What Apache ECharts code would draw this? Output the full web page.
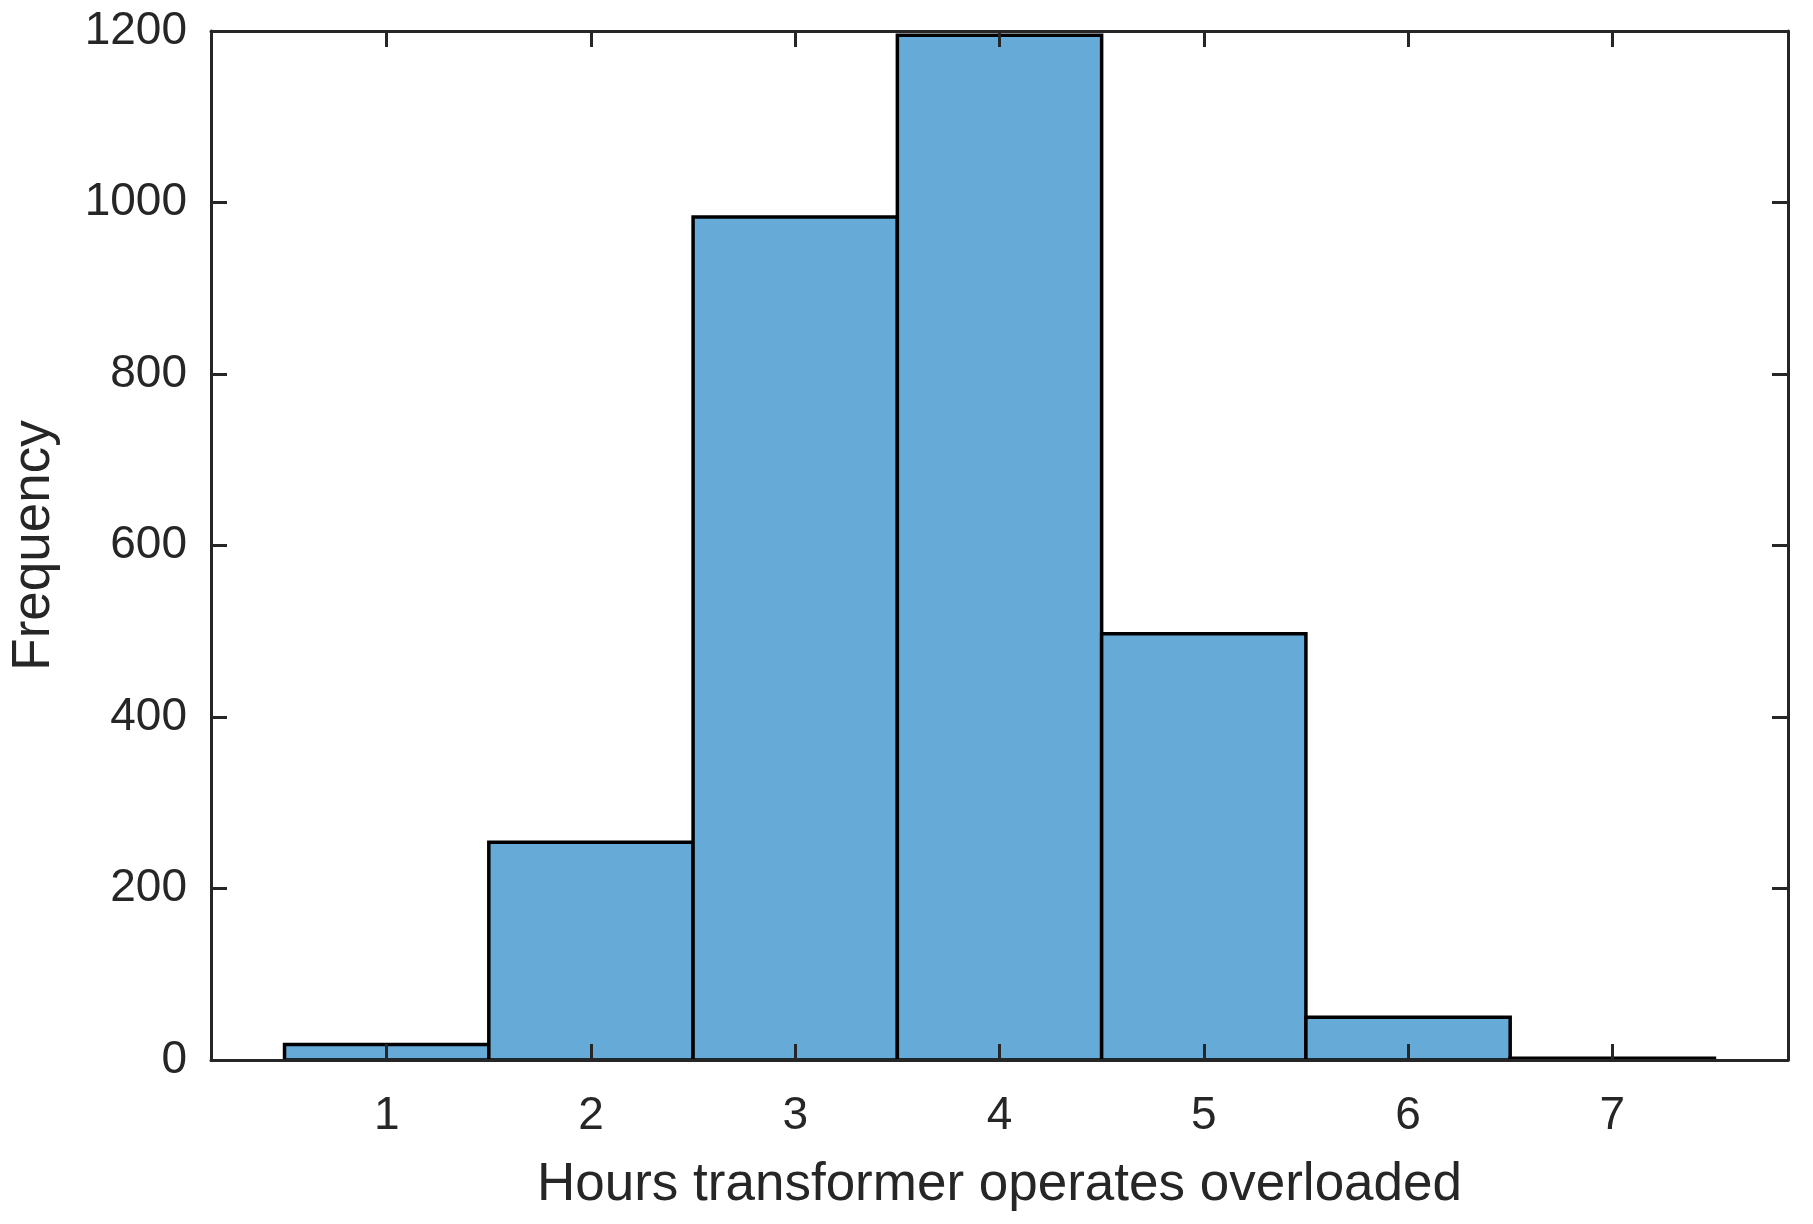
<!DOCTYPE html>
<html>
<head>
<meta charset="utf-8">
<script src="https://cdn.jsdelivr.net/npm/echarts@6/dist/echarts.min.js"></script>
<style>
html,body{margin:0;padding:0;background:#fff;}
#chart{width:1813px;height:1224px;}
</style>
</head>
<body>
<div id="chart"></div>
<script>
// Data
const binCenters = [1, 2, 3, 4, 5, 6, 7];
const frequencies = [18, 254, 983, 1195, 497, 50, 2];
const xTickValues = [1, 2, 3, 4, 5, 6, 7];
const yTickValues = [0, 200, 400, 600, 800, 1000, 1200];
const xTitle = 'Hours transformer operates overloaded';
const yTitle = 'Frequency';

const FONT = '"Liberation Sans", Arial, Helvetica, sans-serif';
const AX = '#262626';
const XMIN = 0.14, XMAX = 7.86;

const chart = echarts.init(document.getElementById('chart'), null, {renderer: 'canvas'});

function xAxisCfg(pos, show) {
  return {
    type: 'value', position: pos, min: XMIN, max: XMAX, z: 10,
    axisLine: {show: true, onZero: false, lineStyle: {color: AX, width: 3}},
    axisTick: {show: true, inside: true, length: 16, lineStyle: {color: AX, width: 3}, customValues: xTickValues},
    axisLabel: {show: show, customValues: xTickValues, margin: 33, fontSize: 46, color: AX, fontFamily: FONT},
    splitLine: {show: false},
    name: show ? xTitle : '', nameLocation: 'middle', nameGap: 99,
    nameTextStyle: {fontSize: 53, color: AX, fontFamily: FONT}
  };
}
function yAxisCfg(pos, show) {
  return {
    type: 'value', position: pos, min: 0, max: 1200, interval: 200, z: 10,
    axisLine: {show: true, onZero: false, lineStyle: {color: AX, width: 3}},
    axisTick: {show: true, inside: true, length: 16, lineStyle: {color: AX, width: 3}},
    axisLabel: {show: show, margin: 24, fontSize: 46, color: AX, fontFamily: FONT,
      formatter: function (v) { return String(v); }},
    splitLine: {show: false},
    name: show ? yTitle : '', nameLocation: 'middle', nameGap: 150,
    nameTextStyle: {fontSize: 53, color: AX, fontFamily: FONT}
  };
}

const option = {
  animation: false,
  backgroundColor: '#ffffff',
  grid: {left: 210, right: 25, top: 31, bottom: 164, containLabel: false},
  xAxis: [xAxisCfg('bottom', true), xAxisCfg('top', false)],
  yAxis: [yAxisCfg('left', true), yAxisCfg('right', false)],
  series: [{
    type: 'custom',
    xAxisIndex: 0, yAxisIndex: 0,
    data: binCenters.map((c, i) => [c, frequencies[i]]),
    renderItem: function (params, api) {
      const c = api.value(0), v = api.value(1);
      const p0 = api.coord([c - 0.5, v]);
      const p1 = api.coord([c + 0.5, 0]);
      return {
        type: 'rect',
        shape: {x: p0[0], y: p0[1], width: p1[0] - p0[0], height: p1[1] - p0[1]},
        style: {fill: '#66aad7', stroke: '#000000', lineWidth: 3.5}
      };
    },
    z: 1
  }]
};
chart.setOption(option);
</script>
</body>
</html>
